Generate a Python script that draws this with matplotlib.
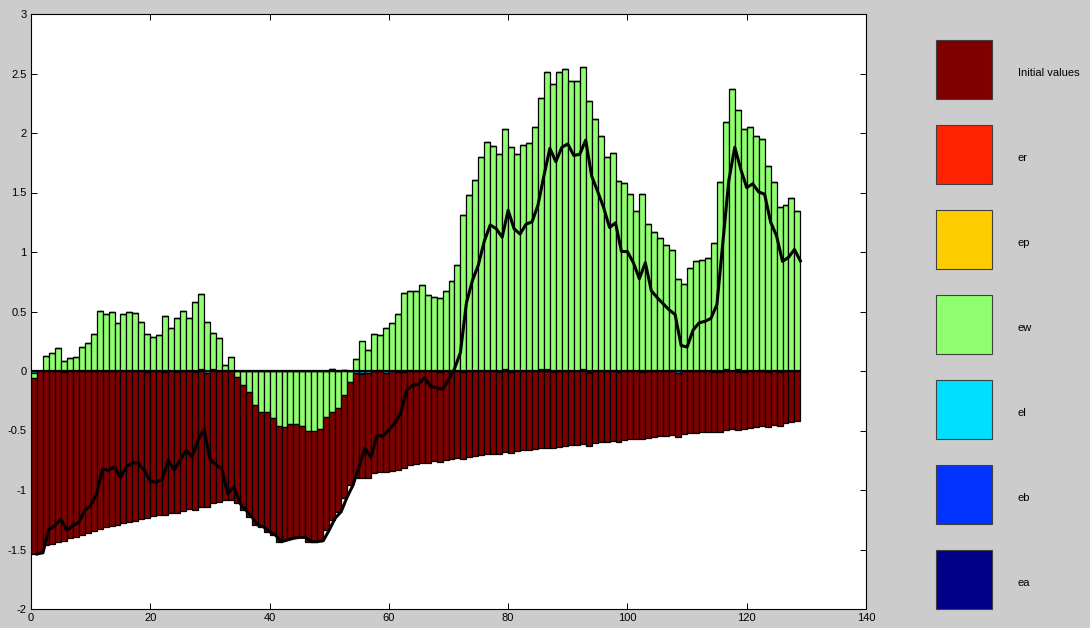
import numpy as np
import matplotlib
matplotlib.use("Agg")
import matplotlib.pyplot as plt
from matplotlib.patches import Rectangle

plt.rcParams['font.family'] = ['Liberation Sans', 'DejaVu Sans']

# bar index 0..128, one bar per step
steps = np.arange(129)

initial = [
    -1.483, -1.527, -1.462, -1.454, -1.440, -1.416, -1.406, -1.392, -1.378, -1.364,
    -1.342, -1.331, -1.314, -1.303, -1.294, -1.280, -1.272, -1.258, -1.246, -1.222,
    -1.218, -1.210, -1.204, -1.190, -1.182, -1.174, -1.162, -1.154, -1.140, -1.126,
    -1.106, -1.098, -1.084, -1.084, -1.057, -1.048, -1.044, -1.008, -0.968, -1.008,
    -0.985, -0.972, -0.952, -0.958, -0.950, -0.939, -0.930, -0.930, -0.939, -0.952,
    -0.905, -0.874, -0.868, -0.868, -0.888, -0.874, -0.882, -0.854, -0.851, -0.832,
    -0.840, -0.818, -0.804, -0.790, -0.780, -0.775, -0.770, -0.760, -0.755, -0.750,
    -0.740, -0.735, -0.730, -0.720, -0.715, -0.710, -0.700, -0.695, -0.690, -0.680,
    -0.675, -0.670, -0.665, -0.660, -0.655, -0.650, -0.645, -0.640, -0.635, -0.630,
    -0.625, -0.620, -0.615, -0.610, -0.605, -0.600, -0.595, -0.590, -0.585, -0.580,
    -0.575, -0.570, -0.565, -0.560, -0.555, -0.550, -0.545, -0.540, -0.535, -0.530,
    -0.525, -0.520, -0.515, -0.510, -0.505, -0.500, -0.495, -0.490, -0.485, -0.480,
    -0.475, -0.470, -0.465, -0.460, -0.455, -0.450, -0.440, -0.430, -0.420,
]

ew = [
    -0.035, 0.000, 0.129, 0.154, 0.196, 0.087, 0.106, 0.120, 0.204, 0.232,
    0.311, 0.507, 0.479, 0.498, 0.400, 0.479, 0.498, 0.485, 0.409, 0.308,
    0.283, 0.300, 0.465, 0.359, 0.443, 0.507, 0.443, 0.582, 0.630, 0.409,
    0.297, 0.275, 0.050, 0.115, -0.053, -0.120, -0.180, -0.286, -0.342, -0.342,
    -0.395, -0.462, -0.468, -0.448, -0.448, -0.459, -0.504, -0.504, -0.487, -0.384,
    -0.347, -0.308, -0.202, -0.090, 0.098, 0.252, 0.176, 0.311, 0.294, 0.359,
    0.400, 0.476, 0.653, 0.660, 0.670, 0.720, 0.640, 0.620, 0.611, 0.675,
    0.759, 0.891, 1.311, 1.479, 1.605, 1.801, 1.927, 1.891, 1.824, 2.011,
    1.880, 1.821, 1.899, 1.913, 2.048, 2.277, 2.501, 2.409, 2.515, 2.538,
    2.437, 2.440, 2.535, 2.269, 2.115, 1.975, 1.801, 1.835, 1.600, 1.583,
    1.485, 1.345, 1.485, 1.235, 1.171, 1.115, 1.059, 1.004, 0.770, 0.731,
    0.868, 0.924, 0.933, 0.952, 1.073, 1.591, 2.076, 2.370, 2.171, 2.031,
    2.048, 1.975, 1.941, 1.723, 1.591, 1.381, 1.395, 1.451, 1.345,
]

# small terms, mostly zero
er = [0.0] * 129
ep = [0.0] * 129
el = [0.0] * 129
eb = [0.0] * 129
ea = [0.0] * 129
for k, v in [(0, -0.02), (5, -0.01), (19, -0.01), (22, -0.01), (24, -0.01),
             (28, 0.02), (29, -0.02), (30, 0.02), (50, 0.015), (52, 0.01),
             (54, -0.015), (55, -0.015), (56, -0.02), (58, 0.01), (59, -0.02),
             (63, 0.01), (68, -0.01), (78, -0.01), (79, 0.02), (80, -0.01),
             (85, 0.015), (86, 0.015), (87, -0.01), (92, 0.02), (93, -0.01),
             (98, -0.01), (107, 0.01), (108, -0.02), (114, -0.01), (116, 0.02),
             (118, -0.01), (119, -0.01), (122, 0.01), (123, -0.01), (125, -0.01)]:
    el[k] = v
for k, v in [(27, -0.01), (61, -0.01), (62, -0.01), (72, -0.01), (93, -0.01),
             (102, -0.01), (115, -0.01), (118, 0.02)]:
    ea[k] = v
er[55] = -0.01

names = ['Initial values', 'er', 'ep', 'ew', 'el', 'eb', 'ea']
colors = ['#800000', '#ff2200', '#ffcc00', '#8fff6f', '#00dfff', '#0033ff', '#000088']
series = [initial, er, ep, ew, el, eb, ea]

fig = plt.figure(figsize=(10.9, 6.28), dpi=100, facecolor='#cccccc')
ax = fig.add_axes([31 / 1090, 19 / 628, 835 / 1090, 595 / 628])
ax.set_facecolor('white')

# stack from zero outward in reverse legend order, positives up and negatives down
pos = np.zeros(len(steps))
neg = np.zeros(len(steps))
for i in reversed(range(len(series))):
    v = np.array(series[i])
    base = np.where(v >= 0, pos, neg)
    ax.bar(steps, v, width=1.0, bottom=base, align='edge', color=colors[i],
           edgecolor='black', linewidth=0.9, zorder=2)
    pos = pos + np.where(v >= 0, v, 0)
    neg = neg + np.where(v < 0, v, 0)

# zero-height segments leave a dark band along the baseline
ax.hlines(0, steps[0], steps[-1] + 1, color='black', linewidth=1.6, zorder=2.5)

total = np.sum(np.array(series), axis=0)
ax.plot(steps + 1, total, color='black', linewidth=2.2, zorder=3)

ax.set_xlim(0, 140)
ax.set_ylim(-2, 3)
ax.set_xticks(np.arange(0, 141, 20))
ax.set_yticks(np.arange(-2, 3.01, 0.5))
ax.set_yticklabels(['-2', '-1.5', '-1', '-0.5', '0', '0.5', '1', '1.5', '2', '2.5', '3'])
ax.tick_params(direction='in', length=4, width=0.7, top=True, right=True,
               labelsize=8, pad=3)
for s in ax.spines.values():
    s.set_linewidth(0.8)

# legend column on the grey side
lax = fig.add_axes([936 / 1090, 19 / 628, 154 / 1090, 569 / 628])
lax.set_xlim(0, 154)
lax.set_ylim(609, 40)
lax.axis('off')
for i, (name, c) in enumerate(zip(names, colors)):
    top = 40 + 85 * i
    lax.add_patch(Rectangle((0, top), 56, 59, facecolor=c, edgecolor='#404040',
                            linewidth=0.8, clip_on=False))
    lax.text(82, top + 33, name, fontsize=8, va='center', ha='left', clip_on=False)

fig.savefig('out.png', dpi=100, facecolor=fig.get_facecolor())
